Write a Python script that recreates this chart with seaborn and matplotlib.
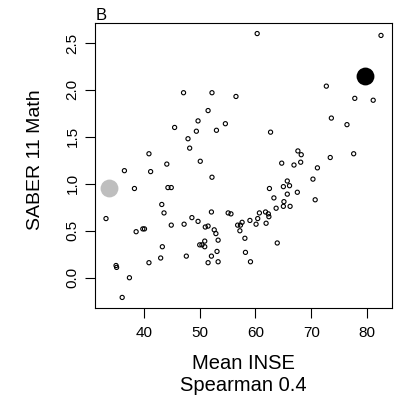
import numpy as np
import pandas as pd
import matplotlib
matplotlib.use("Agg")
import matplotlib.pyplot as plt
import seaborn as sns

# mean INSE per school group vs SABER 11 math score
mean_inse = [60.3, 82.5, 72.7, 47.1, 52.2, 56.5, 77.8, 81.1, 51.5, 73.6,
             49.7, 54.6, 76.4, 45.5, 49.4, 53.0, 62.7, 47.9, 48.2, 40.9,
             67.6, 68.2, 77.6, 73.4, 44.1, 50.1, 64.7, 66.9, 68.1, 71.1,
             36.5, 41.2, 52.2, 70.3, 65.7, 65.0, 66.1, 62.5, 38.3, 44.3,
             44.9, 67.5, 65.7, 63.3, 70.7, 65.1, 43.2, 43.6, 52.1, 55.1,
             55.6, 60.7, 61.8, 62.3, 62.4, 63.7, 65.0, 66.2, 33.2, 48.6,
             49.7, 44.9, 47.2, 51.0, 51.5, 56.8, 57.3, 57.6, 59.0, 60.1,
             60.4, 61.9, 52.6, 52.9, 38.6, 39.8, 40.1, 57.2, 53.3, 58.1,
             63.9, 50.9, 50.0, 50.4, 50.9, 43.3, 53.1, 58.2, 47.6, 52.1,
             43.0, 51.5, 53.3, 59.1, 40.9, 35.0, 35.1, 37.4, 36.1]
saber_math = [2.60, 2.58, 2.04, 1.97, 1.97, 1.93, 1.91, 1.89, 1.78, 1.70,
              1.67, 1.64, 1.63, 1.60, 1.56, 1.57, 1.55, 1.48, 1.38, 1.32,
              1.35, 1.31, 1.32, 1.28, 1.21, 1.24, 1.22, 1.20, 1.23, 1.17,
              1.14, 1.13, 1.07, 1.05, 1.03, 0.97, 0.98, 0.95, 0.95, 0.96,
              0.96, 0.91, 0.89, 0.85, 0.83, 0.81, 0.78, 0.69, 0.70, 0.69,
              0.68, 0.69, 0.70, 0.68, 0.65, 0.74, 0.76, 0.76, 0.63, 0.64,
              0.60, 0.56, 0.57, 0.54, 0.55, 0.56, 0.56, 0.59, 0.61, 0.57,
              0.63, 0.58, 0.51, 0.47, 0.49, 0.52, 0.52, 0.50, 0.40, 0.42,
              0.37, 0.39, 0.35, 0.35, 0.33, 0.33, 0.28, 0.27, 0.23, 0.23,
              0.21, 0.16, 0.17, 0.17, 0.16, 0.13, 0.11, 0.00, -0.21]

# highlighted schools
hl_inse = [79.7, 33.65]
hl_math = [2.15, 0.96]
hl_color = ["black", "#bebebe"]

df = pd.DataFrame({"inse": mean_inse, "math": saber_math})

sns.set_style("ticks")
plt.rcParams["font.family"] = ["Liberation Sans", "DejaVu Sans"]
plt.rcParams["text.color"] = "black"
plt.rcParams["xtick.color"] = "black"
plt.rcParams["ytick.color"] = "black"

fig = plt.figure(figsize=(3.96, 3.98), dpi=100)
ax = fig.add_axes([95 / 396, 1 - 308 / 398, 297 / 396, 285 / 398])

sns.scatterplot(data=df, x="inse", y="math", ax=ax, marker="o", s=9,
                facecolors="none", edgecolors="black", linewidth=0.8)
for xv, yv, c in zip(hl_inse, hl_math, hl_color):
    sns.scatterplot(x=[xv], y=[yv], ax=ax, s=165, color=c, edgecolor=c, linewidth=0)

# R-style 4% padding
xall = mean_inse + hl_inse
yall = saber_math + hl_math
xr = max(xall) - min(xall)
yr = max(yall) - min(yall)
ax.set_xlim(min(xall) - 0.04 * xr, max(xall) + 0.04 * xr)
ax.set_ylim(min(yall) - 0.04 * yr, max(yall) + 0.04 * yr)

ax.set_xticks([40, 50, 60, 70, 80])
ax.set_yticks([0, 0.5, 1.0, 1.5, 2.0, 2.5])
ax.set_yticklabels(["0.0", "0.5", "1.0", "1.5", "2.0", "2.5"], rotation=90, va="center")
ax.tick_params(axis="both", direction="out", length=7, width=0.8, labelsize=11,
               colors="black", labelcolor="black")
ax.tick_params(axis="x", pad=6)
ax.tick_params(axis="y", pad=4)
for sp in ax.spines.values():
    sp.set_visible(True)
    sp.set_linewidth(0.8)
    sp.set_color("black")
ax.set_xlabel("")
ax.set_ylabel("")

fig.text(35 / 396, 1 - 160 / 398, "SABER 11 Math", rotation=90, ha="center",
         va="center", fontsize=14, color="black")
fig.text(243.5 / 396, 1 - 369 / 398, "Mean INSE", ha="center", va="baseline",
         fontsize=14.5, color="black")
fig.text(243.5 / 396, 1 - 391 / 398, "Spearman 0.4", ha="center", va="baseline",
         fontsize=14.5, color="black")
fig.text(96 / 396, 1 - 19.5 / 398, "B", ha="left", va="baseline", fontsize=12,
         color="black")

fig.savefig("out.png", dpi=100)
